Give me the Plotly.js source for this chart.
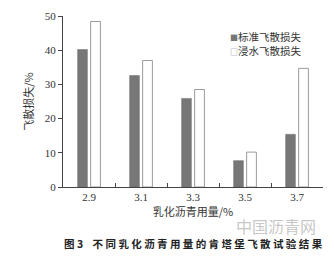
<!DOCTYPE html>
<html><head><meta charset="utf-8">
<script src="https://cdn.plot.ly/plotly-3.0.1.min.js"></script>
<style>html,body{margin:0;padding:0;background:#fff;}#c{width:334px;height:261px;}</style>
</head><body><div id="c"></div>
<script>
const categories = ["2.9", "3.1", "3.3", "3.5", "3.7"];
const standardLoss = [40.2, 32.6, 25.9, 7.7, 15.4];
const soakedLoss = [48.4, 37.0, 28.5, 10.2, 34.7];
const seriesNames = ["标准飞散损失", "浸水飞散损失"];
const yTicks = [0, 10, 20, 30, 40, 50];

const cjk = '"Noto Sans CJK SC", sans-serif';
const serif = '"Liberation Serif", "DejaVu Serif", serif';

const traces = [
  {type: "bar", x: categories, y: standardLoss, name: seriesNames[0],
   marker: {color: "#777777", line: {color: "#6a6a6a", width: 0.5}}},
  {type: "bar", x: categories, y: soakedLoss, name: seriesNames[1],
   marker: {color: "#ffffff", line: {color: "#9a9a9a", width: 1}}}
];

const layout = {
  width: 334, height: 261,
  margin: {l: 63, r: 11, t: 16, b: 74},
  paper_bgcolor: "#fff", plot_bgcolor: "#fff",
  barmode: "group", bargap: 0.5, bargroupgap: 0.25,
  showlegend: false,
  xaxis: {type: "category", showline: true, linecolor: "#444", linewidth: 1,
          ticks: "inside", ticklen: 4, tickcolor: "#444", tickson: "boundaries",
          tickfont: {family: serif, size: 11, color: "#333"},
          title: {text: "乳化沥青用量/%", font: {family: cjk, size: 11, color: "#333"}, standoff: 6},
          showgrid: false, zeroline: false},
  yaxis: {range: [0, 50], tickvals: yTicks, showline: true, linecolor: "#444", linewidth: 1,
          ticks: "outside", ticklen: 4, tickcolor: "#444",
          tickfont: {family: serif, size: 11, color: "#333"},
          title: {text: "飞散损失/%", font: {family: cjk, size: 11, color: "#333"}, standoff: 8},
          showgrid: false, zeroline: false},
  annotations: [
    {xref: "paper", yref: "paper", x: 0.635, y: 0.88, xanchor: "left", yanchor: "middle",
     text: "<span style='color:#777;font-size:8px'>■</span>" + seriesNames[0], showarrow: false,
     font: {family: cjk, size: 10.5, color: "#333"}},
    {xref: "paper", yref: "paper", x: 0.635, y: 0.80, xanchor: "left", yanchor: "middle",
     text: "<span style='color:#777;font-size:8px'>□</span>" + seriesNames[1], showarrow: false,
     font: {family: cjk, size: 10.5, color: "#333"}},
    {xref: "paper", yref: "paper", x: 0.5, y: -0.33, xanchor: "center", yanchor: "middle",
     text: "<b>图 3    不 同 乳 化 沥 青 用 量 的 肯 塔 堡 飞 散 试 验 结 果</b>", showarrow: false,
     font: {family: cjk, size: 10.5, color: "#222"}},
    {xref: "paper", yref: "paper", x: 0.98, y: -0.23, xanchor: "right", yanchor: "middle",
     text: "中国沥青网", showarrow: false,
     font: {family: cjk, size: 16, color: "rgba(150,150,150,0.55)"}}
  ]
};

Plotly.newPlot("c", traces, layout, {staticPlot: true, displayModeBar: false});
</script></body></html>
